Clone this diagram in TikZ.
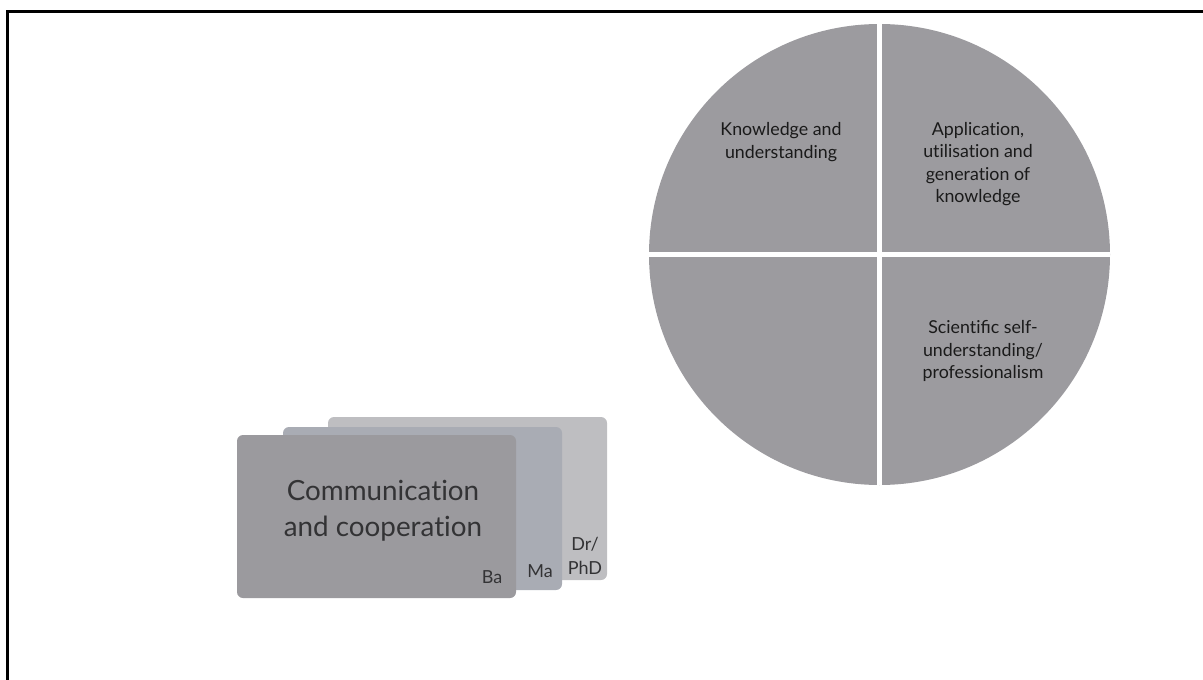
\documentclass[tikz,border=0pt]{standalone}
\usepackage{fontspec}
\setmainfont{Lato}[Ligatures=NoCommon]
\definecolor{piegray}{HTML}{9C9B9F}
\definecolor{bacol}{HTML}{9B9A9E}
\definecolor{macol}{HTML}{A9ACB4}
\definecolor{phdcol}{HTML}{BEBEC1}
\definecolor{cardtext}{HTML}{333335}
\definecolor{pietext}{HTML}{1A1A1A}
\begin{document}
\begin{tikzpicture}[x=1pt,y=-1pt,inner sep=0pt,outer sep=0pt,
  card/.style={rounded corners=6pt,minimum width=279pt,minimum height=163pt,anchor=north west},
  qtext/.style={align=center,text=pietext,font=\fontsize{17.8}{22.3}\selectfont},
  lvl/.style={align=center,text=cardtext,font=\fontsize{18}{24}\selectfont},
  sep/.style={white,line width=5pt}]
\useasboundingbox (0,0) rectangle (1203,680);
\coordinate (fa) at (7,680);
\coordinate (fb) at (7,11);
\coordinate (fc) at (1203,11);
\draw[line width=3pt] (fa) -- (fb) -- (fc);
% pie
\node[circle,fill=piegray,minimum size=461pt] (pie) at (879.5,254.5) {};
\draw[sep] (pie.north) -- (pie.south);
\draw[sep] (pie.west) -- (pie.east);
\node[qtext] (q1) at (781,142) {Knowledge and\\understanding};
\node[qtext] (q2) at (978,164) {Application,\\utilisation and\\generation of\\knowledge};
\node[qtext] (q4) at (983,351) {Scientiﬁc self-\\understanding/\\professionalism};
% cards
\node[card,fill=phdcol] (phd) at (328,417) {};
\node[card,fill=macol] (ma) at (283,427) {};
\node[card,fill=bacol] (ba) at (237,435) {};
\node[align=center,text=cardtext,font=\fontsize{27.8}{36}\selectfont] (cc) at (383,511) {Communication\\and cooperation};
\node[lvl] (bal) at (492,577) {Ba};
\node[lvl] (mal) at (540,571) {Ma};
\node[lvl] (phdl) at (585,556) {Dr/\\PhD};
\end{tikzpicture}
\end{document}
